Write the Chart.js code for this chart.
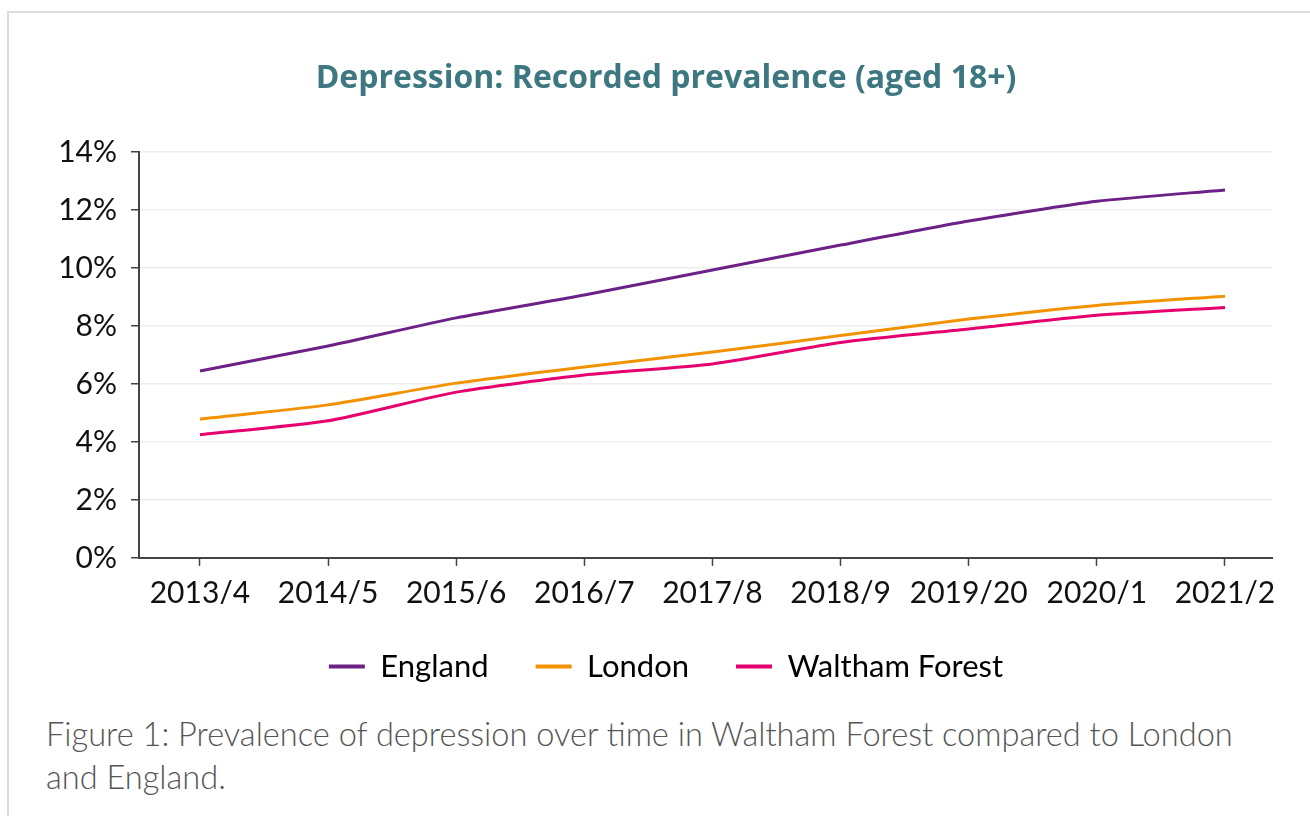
<!DOCTYPE html>
<html>
<head>
<meta charset="utf-8">
<script src="https://cdn.jsdelivr.net/npm/chart.js@4/dist/chart.umd.min.js"></script>
<style>
  html, body { margin: 0; padding: 0; background: #fff; width: 1310px; height: 816px; overflow: hidden; }
  .frame { position: absolute; left: 7px; top: 11px; width: 1400px; height: 900px; border: 2px solid #dcdcdc; }
  .chartBox { position: absolute; left: 0; top: 0; width: 1310px; height: 692px; }
  .caption { position: absolute; left: 46px; top: 712px; width: 1260px; font-family: Lato, sans-serif; font-weight: 300; font-size: 32.6px; line-height: 43px; color: #555; white-space: nowrap; }
</style>
</head>
<body>
<div class="frame"></div>
<div class="chartBox"><canvas id="myChart" width="1310" height="692"></canvas></div>
<div class="caption">Figure 1: Prevalence of depression over time in Waltham Forest compared to London<br>and England.</div>
<script>
const years = ['2013/4', '2014/5', '2015/6', '2016/7', '2017/8', '2018/9', '2019/20', '2020/1', '2021/2'];
const england = [6.45, 7.31, 8.28, 9.07, 9.93, 10.79, 11.62, 12.3, 12.69];
const london = [4.79, 5.28, 6.03, 6.59, 7.10, 7.67, 8.24, 8.71, 9.03];
const walthamForest = [4.25, 4.73, 5.72, 6.31, 6.69, 7.43, 7.90, 8.37, 8.64];
const yTicks = [0, 2, 4, 6, 8, 10, 12, 14];

const seriesNames = ['England', 'London', 'Waltham Forest'];
const seriesColors = ['#6b2186', '#f39200', '#e5006e'];

const toPoints = values => values.map((v, i) => ({ x: i, y: v }));

const datasets = [england, london, walthamForest].map((values, index) => ({
    label: seriesNames[index],
    data: toPoints(values),
    borderColor: seriesColors[index],
    backgroundColor: seriesColors[index],
    borderWidth: 3,
    pointRadius: 0,
    tension: 0.2,
    fill: false
}));

const ctx = document.getElementById('myChart').getContext('2d');
new Chart(ctx, {
    type: 'line',
    data: { datasets: datasets },
    options: {
        responsive: false,
        animation: false,
        layout: { padding: { left: 60, right: 38, top: 0, bottom: 0 } },
        plugins: {
            title: {
                display: true,
                text: 'Depression: Recorded prevalence (aged 18+)',
                color: '#3d7880',
                font: { family: 'Open Sans', size: 32, weight: 'bold' },
                padding: { top: 60, bottom: 53.6 }
            },
            legend: {
                position: 'bottom',
                labels: {
                    color: '#4e4e4e',
                    font: { family: 'Lato', size: 31 },
                    boxWidth: 36,
                    boxHeight: 4,
                    padding: 47,
                    generateLabels: chart => chart.data.datasets.map((ds, i) => ({
                        text: ds.label,
                        fillStyle: ds.borderColor,
                        strokeStyle: ds.borderColor,
                        lineWidth: 0,
                        datasetIndex: i
                    }))
                }
            },
            tooltip: { enabled: false }
        },
        scales: {
            x: {
                type: 'linear',
                min: -0.476,
                max: 8.367,
                afterBuildTicks: scale => { scale.ticks = years.map((y, i) => ({ value: i })); },
                afterFit: scale => { scale.height = 46; },
                border: { color: '#444', width: 2 },
                grid: { drawOnChartArea: false, tickLength: 8, tickColor: '#444', tickWidth: 1.5 },
                ticks: {
                    color: '#111',
                    font: { family: 'Lato', size: 30 },
                    padding: 9,
                    maxRotation: 0,
                    autoSkip: false,
                    callback: value => years[value] ?? ''
                }
            },
            y: {
                min: 0,
                max: 14,
                afterBuildTicks: scale => { scale.ticks = yTicks.map(v => ({ value: v })); },
                afterFit: scale => { scale.width = 79; },
                border: { color: '#444', width: 2 },
                grid: { color: '#eeeeee', lineWidth: 1.5, tickLength: 8, tickColor: '#444', tickWidth: 1.5 },
                ticks: {
                    color: '#111',
                    font: { family: 'Lato', size: 30 },
                    padding: 14,
                    callback: value => value + '%'
                }
            }
        }
    }
});
</script>
</body>
</html>
